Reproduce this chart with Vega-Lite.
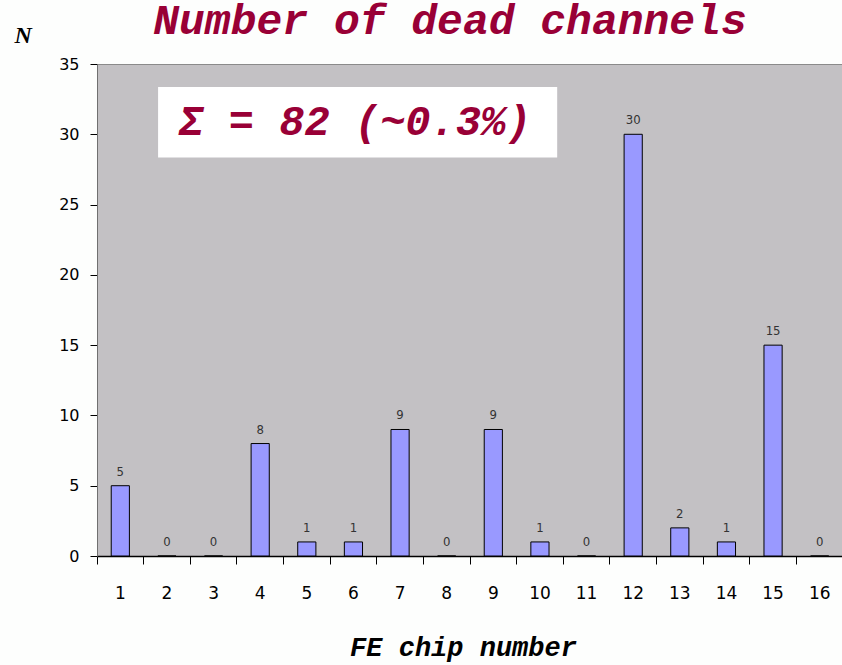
{
  "$schema": "https://vega.github.io/schema/vega-lite/v6.json",
  "width": 746,
  "height": 492,
  "autosize": "none",
  "padding": {"left": 97, "top": 64, "right": 0, "bottom": 109},
  "background": "#fdfefd",
  "title": {
    "text": "Number of dead channels",
    "font": "Liberation Mono",
    "fontSize": 43,
    "fontWeight": "bold",
    "fontStyle": "italic",
    "color": "#990036",
    "anchor": "middle",
    "frame": "group",
    "dx": -20,
    "baseline": "alphabetic",
    "offset": -54
  },
  "config": {
    "view": {"fill": "#c3c1c4", "stroke": "#8a8a8a", "strokeWidth": 1}
  },
  "layer": [
    {
      "data": {
        "values": [
          {"chip": 1, "n": 5}, {"chip": 2, "n": 0}, {"chip": 3, "n": 0}, {"chip": 4, "n": 8},
          {"chip": 5, "n": 1}, {"chip": 6, "n": 1}, {"chip": 7, "n": 9}, {"chip": 8, "n": 0},
          {"chip": 9, "n": 9}, {"chip": 10, "n": 1}, {"chip": 11, "n": 0}, {"chip": 12, "n": 30},
          {"chip": 13, "n": 2}, {"chip": 14, "n": 1}, {"chip": 15, "n": 15}, {"chip": 16, "n": 0}
        ]
      },
      "encoding": {
        "x": {
          "field": "chip",
          "type": "ordinal",
          "scale": {"paddingInner": 0, "paddingOuter": 0},
          "axis": {
            "title": "FE chip number",
            "titleFont": "Liberation Mono",
            "titleFontSize": 27,
            "titleFontWeight": "bold",
            "titleFontStyle": "italic",
            "titleColor": "#000000",
            "titleX": 366,
            "titleY": 99,
            "titleBaseline": "alphabetic",
            "titleAlign": "center",
            "labelAngle": 0,
            "labelFont": "DejaVu Sans",
            "labelFontSize": 17,
            "labelColor": "#000000",
            "labelPadding": 21,
            "tickSize": 8,
            "tickColor": "#000000",
            "bandPosition": 0,
            "domainColor": "#000000",
            "domainWidth": 1.5
          }
        },
        "y": {
          "field": "n",
          "type": "quantitative",
          "scale": {"domain": [0, 35], "nice": false},
          "axis": {
            "title": "N",
            "titleFont": "Liberation Serif",
            "titleFontSize": 24,
            "titleFontWeight": "bold",
            "titleFontStyle": "italic",
            "titleColor": "#000000",
            "titleAngle": 0,
            "titleAlign": "left",
            "titleBaseline": "alphabetic",
            "titleX": -83,
            "titleY": -22,
            "values": [0, 5, 10, 15, 20, 25, 30, 35],
            "labelFont": "DejaVu Sans",
            "labelFontSize": 16,
            "labelColor": "#000000",
            "labelPadding": 11,
            "tickSize": 7,
            "tickColor": "#000000",
            "domainColor": "#707070",
            "grid": false
          }
        }
      },
      "layer": [
        {
          "mark": {"type": "bar", "width": {"band": 0.39}, "fill": "#9999ff", "stroke": "#000000", "strokeWidth": 1}
        },
        {
          "mark": {"type": "text", "baseline": "bottom", "dy": -7, "font": "DejaVu Sans Condensed", "fontSize": 13, "color": "#333333"},
          "encoding": {"text": {"field": "n", "type": "quantitative"}}
        }
      ]
    },
    {
      "data": {"values": [{"x1": 1.31, "x2": 9.87, "y1": 28.34, "y2": 33.36, "tx": 5.53, "ty": 29.95, "label": "Σ = 82 (~0.3%)"}]},
      "layer": [
        {
          "mark": {"type": "rect", "fill": "#ffffff"},
          "encoding": {
            "x": {"field": "x1", "type": "quantitative", "scale": {"domain": [0, 16]}, "axis": null},
            "x2": {"field": "x2"},
            "y": {"field": "y1", "type": "quantitative"},
            "y2": {"field": "y2"}
          }
        },
        {
          "mark": {"type": "text", "font": "Liberation Mono", "fontSize": 42, "fontWeight": "bold", "fontStyle": "italic", "color": "#990036", "baseline": "alphabetic", "align": "center"},
          "encoding": {
            "x": {"field": "tx", "type": "quantitative", "scale": {"domain": [0, 16]}, "axis": null},
            "y": {"field": "ty", "type": "quantitative"},
            "text": {"field": "label"}
          }
        }
      ]
    }
  ],
  "resolve": {"scale": {"x": "independent"}, "axis": {"x": "independent"}}
}
